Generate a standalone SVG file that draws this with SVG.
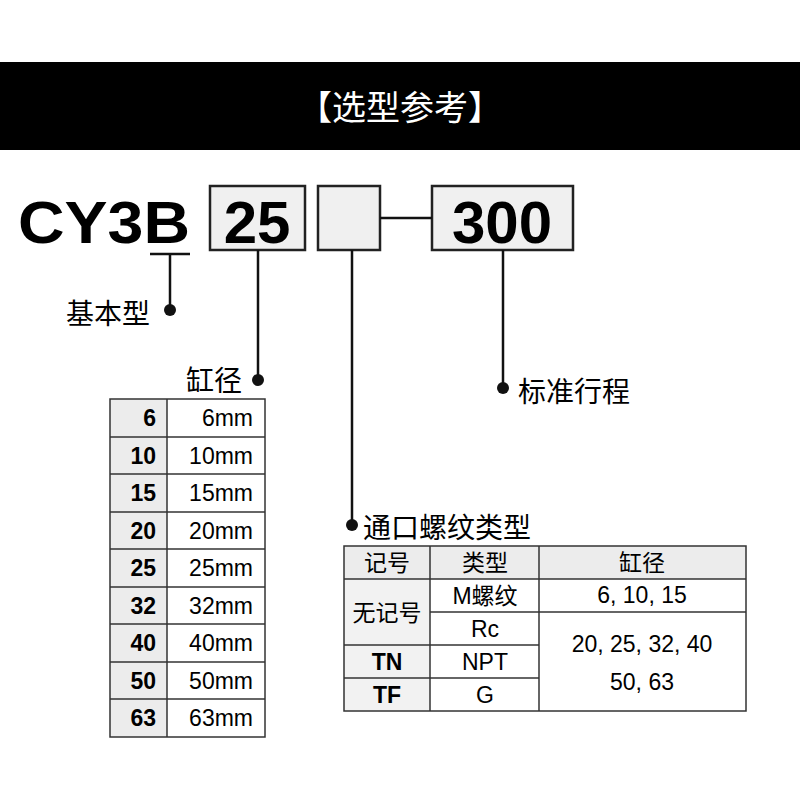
<svg xmlns="http://www.w3.org/2000/svg" width="800" height="800" viewBox="0 0 800 800">
<style>
.f{font-family:"Liberation Sans","Noto Sans CJK SC",sans-serif}
.big{font-size:60px;font-weight:bold}
.lb{font-size:28px}
.t{font-size:23px}
.b{font-weight:bold}
.box{fill:#f0f0f0;stroke:#222;stroke-width:2.5}
.ln{stroke:#111;stroke-width:2.5;fill:none}
.cell{stroke:#333;stroke-width:1.5}
</style>
<rect width="800" height="800" fill="#fff"/>
<rect x="0" y="62" width="800" height="88" fill="#000"/>
<text class="f" x="400" y="120" font-size="34" fill="#fff" text-anchor="middle">【选型参考】</text>
<g id="code">
<text class="f big" x="18" y="243" textLength="172" lengthAdjust="spacingAndGlyphs">CY3B</text>
<rect class="box" x="210" y="186" width="95" height="64"/>
<text class="f big" x="257" y="243" text-anchor="middle">25</text>
<rect class="box" x="318" y="186" width="62" height="64"/>
<rect class="box" x="432" y="186" width="141" height="64"/>
<text class="f big" x="502" y="243" text-anchor="middle">300</text>
</g>
<g id="connectors" class="ln">
<line x1="150" y1="254" x2="190" y2="254"/>
<line x1="170" y1="254" x2="170" y2="310"/>
<line x1="258" y1="250" x2="258" y2="380"/>
<line x1="352" y1="250" x2="352" y2="525"/>
<line x1="380" y1="218" x2="432" y2="218"/>
<line x1="503" y1="250" x2="503" y2="388"/>
</g>
<g fill="#111">
<circle cx="170" cy="310" r="6"/><circle cx="258" cy="380" r="6"/><circle cx="352" cy="525" r="6"/><circle cx="503" cy="388" r="6"/>
</g>
<text class="f lb" x="66" y="324">基本型</text>
<text class="f lb" x="186" y="391">缸径</text>
<text class="f lb" x="363" y="538">通口螺纹类型</text>
<text class="f lb" x="518" y="402">标准行程</text>
<g id="bore-table" class="f t">
<rect x="110" y="399" width="57" height="338" fill="#ececec"/>
<rect x="110" y="399" width="155" height="338" fill="none" class="cell"/>
<line class="cell" x1="167" y1="399" x2="167" y2="737"/>
<g class="cell">
<line x1="110" y1="437" x2="265" y2="437"/><line x1="110" y1="474" x2="265" y2="474"/><line x1="110" y1="512" x2="265" y2="512"/><line x1="110" y1="549" x2="265" y2="549"/><line x1="110" y1="587" x2="265" y2="587"/><line x1="110" y1="624" x2="265" y2="624"/><line x1="110" y1="662" x2="265" y2="662"/><line x1="110" y1="699" x2="265" y2="699"/>
</g>
<g class="b" text-anchor="end">
<text x="156" y="426">6</text><text x="156" y="464">10</text><text x="156" y="501">15</text><text x="156" y="539">20</text><text x="156" y="576">25</text><text x="156" y="614">32</text><text x="156" y="651">40</text><text x="156" y="689">50</text><text x="156" y="726">63</text>
</g>
<g text-anchor="end">
<text x="253" y="426">6mm</text><text x="253" y="464">10mm</text><text x="253" y="501">15mm</text><text x="253" y="539">20mm</text><text x="253" y="576">25mm</text><text x="253" y="614">32mm</text><text x="253" y="651">40mm</text><text x="253" y="689">50mm</text><text x="253" y="726">63mm</text>
</g>
</g>
<g id="port-table" class="f t">
<rect x="344" y="546" width="402" height="33" fill="#ececec"/>
<rect x="344" y="579" width="86" height="132" fill="#f2f2f2"/>
<rect x="344" y="546" width="402" height="165" fill="none" class="cell"/>
<g class="cell">
<line x1="344" y1="579" x2="746" y2="579"/>
<line x1="430" y1="546" x2="430" y2="711"/>
<line x1="539" y1="546" x2="539" y2="711"/>
<line x1="430" y1="612" x2="746" y2="612"/>
<line x1="344" y1="645" x2="539" y2="645"/>
<line x1="344" y1="678" x2="539" y2="678"/>
</g>
<g text-anchor="middle">
<text x="387" y="571">记号</text><text x="485" y="571">类型</text><text x="642" y="571">缸径</text>
<text x="485" y="604">M螺纹</text><text x="642" y="603">6, 10, 15</text>
<text x="387" y="621">无记号</text>
<text x="485" y="637">Rc</text>
<text x="642" y="652">20, 25, 32, 40</text><text x="642" y="690">50, 63</text>
<text x="387" y="670" class="b">TN</text><text x="485" y="670">NPT</text>
<text x="387" y="703" class="b">TF</text><text x="485" y="703">G</text>
</g>
</g>
</svg>
